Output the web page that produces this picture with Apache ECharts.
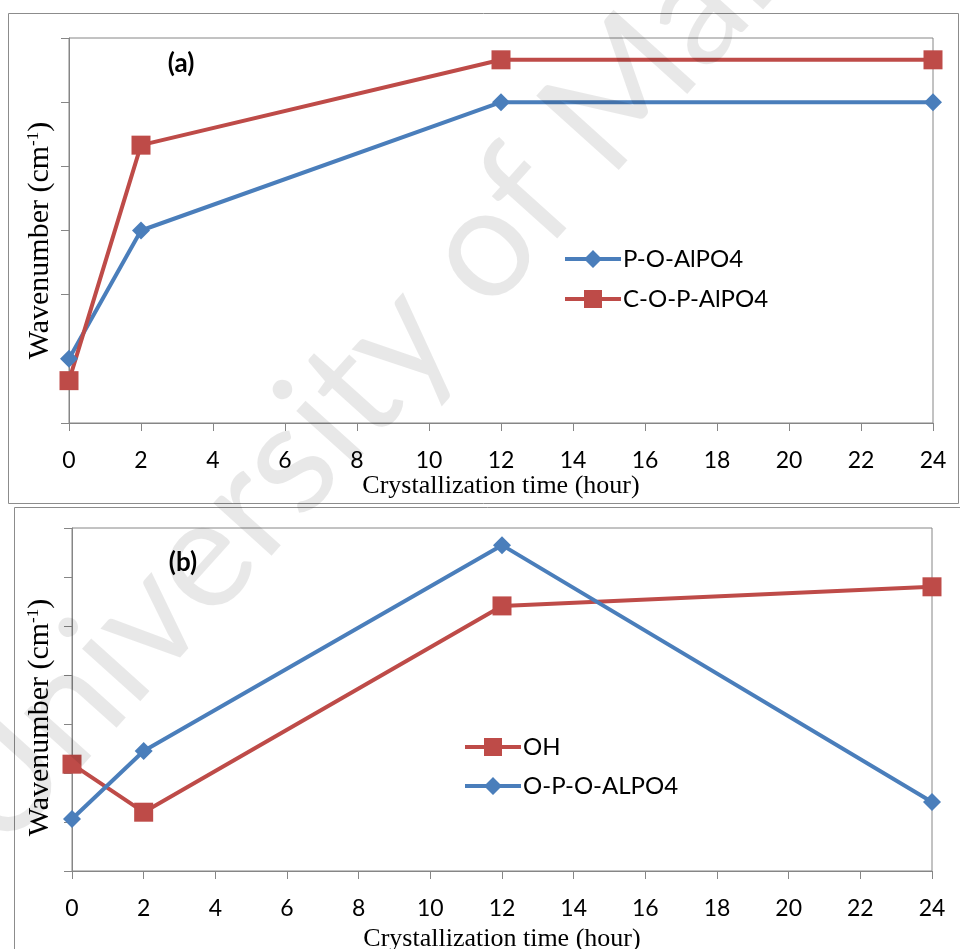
<!DOCTYPE html>
<html>
<head>
<meta charset="utf-8">
<script src="https://cdn.jsdelivr.net/npm/echarts@6/dist/echarts.min.js"></script>
<style>
  html, body { margin: 0; padding: 0; background: #fff; }
  #chart { width: 960px; height: 949px; }
</style>
</head>
<body>
<div id="chart"></div>
<script>
// Crystallization time (hours) shared by both panels
const hours = [0, 2, 12, 24];
const xTicks = [0, 2, 4, 6, 8, 10, 12, 14, 16, 18, 20, 22, 24];

// Panel (a): relative band positions (axis carries no numeric labels)
const pOAlPO4 = [1.0, 3.0, 5.0, 5.0];
const cOPAlPO4 = [0.66, 4.33, 5.66, 5.66];

// Panel (b)
const ohBand = [2.18, 1.2, 5.41, 5.8];
const opoAlPO4 = [1.06, 2.45, 6.65, 1.41];

const BLUE = '#4A7EBB';
const RED = '#BE4B48';
const AXIS = '#868686';
const SANS = 'Lato, "Open Sans", sans-serif';
const SERIF = '"Liberation Serif", "Times New Roman", serif';

// legend keys: thick line with the series marker centred on it
const KEY_SQUARE = 'path://M0 8L56 8L56 12L0 12ZM19 1L37 1L37 19L19 19Z';
const KEY_DIAMOND = 'path://M0 8L56 8L56 12L0 12ZM28 1L37 10L28 19L19 10Z';

const pairs = (xs, ys) => xs.map((x, i) => [x, ys[i]]);

const chart = echarts.init(document.getElementById('chart'), null, { renderer: 'canvas' });

function xAxisFor(gridIndex, gap) {
  return {
    type: 'value', gridIndex, min: xTicks[0], max: xTicks[xTicks.length - 1], interval: 2,
    axisLine: { lineStyle: { color: AXIS, width: 1 } },
    axisTick: { show: true, length: 8, inside: false, lineStyle: { color: AXIS } },
    axisLabel: { color: '#000', fontFamily: SANS, fontSize: 23, margin: 26 },
    splitLine: { show: false },
    name: 'Crystallization time (hour)', nameLocation: 'middle', nameGap: gap,
    nameTextStyle: { color: '#000', fontFamily: SERIF, fontSize: 26 }
  };
}

function yAxisFor(gridIndex, max, gap, shift) {
  return {
    type: 'value', gridIndex, min: 0, max, interval: 1,
    axisLine: { show: true, lineStyle: { color: AXIS, width: 1 } },
    axisTick: { show: true, length: 8, inside: false, lineStyle: { color: AXIS } },
    axisLabel: { show: false },
    splitLine: { show: false },
    name: '{t|Wavenumber (cm}{s|-1}{t|)}', nameLocation: 'middle', nameGap: gap, nameRotate: 90,
    nameTextStyle: {
      padding: [0, shift, 0, 0],
      rich: {
        t: { color: '#000', fontFamily: SERIF, fontSize: 30 },
        s: { color: '#000', fontFamily: SERIF, fontSize: 17, padding: [0, 0, 13, 0] }
      }
    }
  };
}

function lineSeries(name, data, color, symbol, size, idx) {
  return {
    name, type: 'line', xAxisIndex: idx, yAxisIndex: idx,
    data, symbol, symbolSize: size, showSymbol: true,
    lineStyle: { color, width: 4 },
    itemStyle: { color },
    emphasis: { disabled: true },
    animation: false
  };
}

const legendText = { color: '#000', fontFamily: SANS, fontSize: 24, padding: [0, 0, 0, -3] };

const option = {
  backgroundColor: '#fff',
  animation: false,
  grid: [
    { left: 69, right: 27, top: 38, height: 385, outerBoundsMode: 'none', show: true, borderColor: AXIS, borderWidth: 1, backgroundColor: 'transparent' },
    { left: 72, right: 28, top: 528, height: 343, outerBoundsMode: 'none', show: true, borderColor: AXIS, borderWidth: 1, backgroundColor: 'transparent' }
  ],
  xAxis: [xAxisFor(0, 50), xAxisFor(1, 55)],
  yAxis: [yAxisFor(0, 6, 14, 20), yAxisFor(1, 7, 17, 36)],
  legend: [
    {
      left: 565, top: 247, padding: 0, orient: 'vertical', itemGap: 16, itemWidth: 56, itemHeight: 18,
      data: [
        { name: 'P-O-AlPO4', icon: KEY_DIAMOND },
        { name: 'C-O-P-AlPO4', icon: KEY_SQUARE }
      ],
      textStyle: legendText
    },
    {
      left: 465, top: 735, padding: 0, orient: 'vertical', itemGap: 15, itemWidth: 56, itemHeight: 18,
      data: [
        { name: 'OH', icon: KEY_SQUARE },
        { name: 'O-P-O-ALPO4', icon: KEY_DIAMOND }
      ],
      textStyle: legendText
    }
  ],
  series: [
    lineSeries('P-O-AlPO4', pairs(hours, pOAlPO4), BLUE, 'diamond', 18, 0),
    lineSeries('C-O-P-AlPO4', pairs(hours, cOPAlPO4), RED, 'rect', 19, 0),
    lineSeries('OH', pairs(hours, ohBand), RED, 'rect', 19, 1),
    lineSeries('O-P-O-ALPO4', pairs(hours, opoAlPO4), BLUE, 'diamond', 18, 1)
  ],
  graphic: [
    // chart-area frames
    { type: 'rect', shape: { x: 8.5, y: 13.5, width: 950, height: 490 }, style: { fill: 'none', stroke: '#8c8c8c', lineWidth: 1 }, z: 0 },
    { type: 'rect', shape: { x: 14.5, y: 507.5, width: 950, height: 460 }, style: { fill: 'none', stroke: '#8c8c8c', lineWidth: 1 }, z: 0 },
    // panel tags
    { type: 'text', x: 181, y: 64, style: { text: '(a)', fill: '#000', font: 'bold 26px ' + SANS, textAlign: 'center', textVerticalAlign: 'middle' }, z: 10 },
    { type: 'text', x: 183, y: 563, style: { text: '(b)', fill: '#000', font: 'bold 26px ' + SANS, textAlign: 'center', textVerticalAlign: 'middle' }, z: 10 },
    // repository watermark
    { type: 'text', x: 430, y: 305, rotation: 48 * Math.PI / 180, silent: true,
      style: { text: 'University of Malaya', fill: 'rgba(0,0,0,0.09)', font: '155px ' + SANS, textAlign: 'center', textVerticalAlign: 'middle' }, z: 100 }
  ]
};

chart.setOption(option);
</script>
</body>
</html>
